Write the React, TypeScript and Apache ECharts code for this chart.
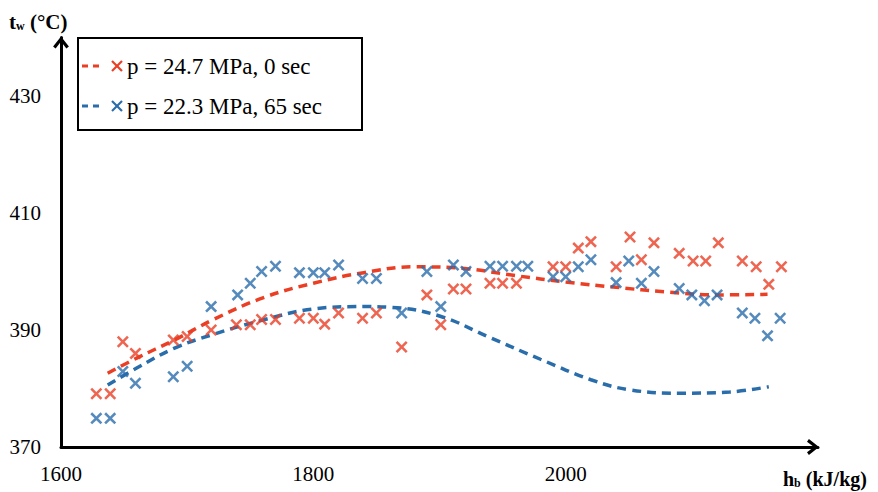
import React, { useEffect, useRef } from "react";
import * as echarts from "echarts";

// Measured data (h_b in kJ/kg, t_w in °C)
const hbRed = [1628, 1639, 1649, 1659, 1689, 1700, 1719, 1739, 1750, 1759, 1770, 1789, 1800, 1809, 1820, 1839, 1850, 1870, 1890, 1901, 1911, 1921, 1940, 1950, 1961, 1990, 2000, 2010, 2020, 2040, 2051, 2060, 2070, 2090, 2101, 2111, 2121, 2140, 2151, 2161, 2171];
const twRed = [379.1, 379.1, 388.0, 386.0, 388.3, 388.9, 390.0, 390.9, 390.9, 391.8, 391.8, 392.0, 392.0, 391.0, 392.9, 392.0, 392.9, 387.1, 396.0, 390.9, 397.0, 397.0, 398.0, 398.0, 398.0, 400.8, 400.8, 404.0, 405.1, 400.8, 405.9, 402.0, 404.9, 403.1, 401.8, 401.8, 404.9, 401.8, 400.8, 397.8, 400.8];

const hbBlue = [1628, 1639, 1649, 1659, 1689, 1700, 1719, 1740, 1750, 1759, 1770, 1789, 1800, 1809, 1820, 1839, 1850, 1870, 1890, 1901, 1911, 1921, 1940, 1950, 1961, 1970, 1990, 2000, 2010, 2020, 2040, 2050, 2060, 2070, 2090, 2100, 2110, 2120, 2140, 2150, 2160, 2170];
const twBlue = [374.9, 374.9, 382.9, 380.9, 382.0, 383.8, 394.0, 396.0, 398.0, 400.0, 400.9, 399.8, 399.8, 399.8, 401.1, 398.8, 398.8, 392.9, 400.0, 394.0, 401.1, 400.0, 400.9, 400.9, 400.9, 400.9, 399.1, 399.1, 400.8, 402.0, 398.1, 401.8, 398.0, 400.0, 397.1, 396.0, 395.0, 396.0, 392.9, 392.0, 389.0, 392.0];

// Trend lines
const trendRedX = [1637, 1660, 1690, 1720, 1760, 1800, 1840, 1880, 1920, 1960, 2000, 2040, 2080, 2120, 2160];
const trendRedY = [382.6, 385.2, 388.3, 391.7, 395.5, 398.0, 399.8, 400.8, 400.5, 399.3, 398.2, 397.3, 396.5, 396.0, 396.1];
const trendBlueX = [1637, 1660, 1690, 1720, 1760, 1800, 1840, 1860, 1900, 1940, 1980, 2020, 2050, 2090, 2130, 2161];
const trendBlueY = [380.6, 383.5, 386.9, 389.2, 391.7, 393.6, 394.0, 393.9, 392.4, 388.7, 385.0, 381.5, 379.8, 379.2, 379.4, 380.3];

const legendLabels = ["p = 24.7 MPa, 0 sec", "p = 22.3 MPa, 65 sec"];
const RED = "#ea3f25";
const BLUE = "#2a6dab";
const FONT = "'Liberation Serif', 'Times New Roman', serif";

const XPATH = "path://M0,1.5L1.5,0L5,3.5L8.5,0L10,1.5L6.5,5L10,8.5L8.5,10L5,6.5L1.5,10L0,8.5L3.5,5Z";
const ARROW = "path://M5,0L10,6.4L8.4,7.6L5,3.2L1.6,7.6L0,6.4Z";

const zip = (xs: number[], ys: number[]) => xs.map((x, i) => [x, ys[i]]);

export default function App() {
  const ref = useRef<HTMLDivElement>(null);
  useEffect(() => {
    if (!ref.current) return;
    const chart = echarts.init(ref.current, undefined, { renderer: "svg" });
    const legendRow = (y: number, color: string, label: string) => [
      { type: "line", z: 20, shape: { x1: 82, y1: y, x2: 101, y2: y }, style: { stroke: color, lineWidth: 3, lineDash: [6, 5] } },
      { type: "line", z: 20, shape: { x1: 112, y1: y - 5, x2: 122, y2: y + 5 }, style: { stroke: color, lineWidth: 2.2 } },
      { type: "line", z: 20, shape: { x1: 122, y1: y - 5, x2: 112, y2: y + 5 }, style: { stroke: color, lineWidth: 2.2 } },
      { type: "text", z: 20, x: 127, y, style: { text: label, font: `23px ${FONT}`, fill: "#000", verticalAlign: "middle", align: "left" } },
    ];
    chart.setOption({
      animation: false,
      backgroundColor: "#fff",
      grid: { left: 61, right: 60, top: 37.5, bottom: 45, containLabel: false, outerBoundsMode: "none" },
      xAxis: {
        type: "value",
        min: 1600,
        max: 2200,
        interval: 200,
        splitLine: { show: false },
        axisTick: { show: false },
        axisLine: {
          lineStyle: { color: "#000", width: 3 },
          symbol: ["none", ARROW],
          symbolSize: [18, 12],
          symbolOffset: [0, -5],
        },
        axisLabel: { color: "#000", fontSize: 21, fontFamily: FONT, margin: 16, showMaxLabel: false, formatter: (v: number) => String(v) },
      },
      yAxis: {
        type: "value",
        min: 370,
        max: 440,
        interval: 20,
        splitLine: { show: false },
        axisTick: { show: false },
        axisLine: {
          lineStyle: { color: "#000", width: 3 },
          symbol: ["none", ARROW],
          symbolSize: [18, 12],
          symbolOffset: [0, -5],
        },
        axisLabel: { color: "#000", fontSize: 21, fontFamily: FONT, margin: 20, showMaxLabel: false, formatter: (v: number) => String(v) },
      },
      series: [
        {
          type: "line",
          data: zip(trendRedX, trendRedY),
          smooth: 0.4,
          showSymbol: false,
          lineStyle: { color: RED, width: 3.5, type: [9, 6] },
          z: 2,
        },
        {
          type: "line",
          data: zip(trendBlueX, trendBlueY),
          smooth: 0.4,
          showSymbol: false,
          lineStyle: { color: BLUE, width: 3.5, type: [9, 6] },
          z: 2,
        },
        {
          type: "scatter",
          data: zip(hbRed, twRed),
          symbol: XPATH,
          symbolSize: 12,
          itemStyle: { color: RED },
          z: 3,
        },
        {
          type: "scatter",
          data: zip(hbBlue, twBlue),
          symbol: XPATH,
          symbolSize: 12,
          itemStyle: { color: BLUE },
          z: 3,
        },
      ],
      graphic: [
        {
          type: "text",
          x: 9,
          y: 22,
          style: {
            text: "{a|t}{s|w}{a| (°C)}",
            verticalAlign: "middle",
            rich: {
              a: { font: `bold 21px ${FONT}`, fill: "#000" },
              s: { font: `bold 12px ${FONT}`, fill: "#000", padding: [8, 0, 0, 0] },
            },
          },
        },
        {
          type: "text",
          x: 783,
          y: 479,
          style: {
            text: "{a|h}{s|b}{a| (kJ/kg)}",
            verticalAlign: "middle",
            rich: {
              a: { font: `bold 20px ${FONT}`, fill: "#000" },
              s: { font: `bold 12px ${FONT}`, fill: "#000", padding: [8, 0, 0, 0] },
            },
          },
        },
        {
          type: "rect",
          z: 10,
          shape: { x: 78, y: 38, width: 284, height: 92 },
          style: { fill: "#fff", stroke: "#000", lineWidth: 2 },
        },
        ...legendRow(66, RED, legendLabels[0]),
        ...legendRow(106, BLUE, legendLabels[1]),
      ],
    });
    return () => chart.dispose();
  }, []);
  return <div ref={ref} style={{ position: "fixed", left: 0, top: 0, width: 878, height: 492 }} />;
}
